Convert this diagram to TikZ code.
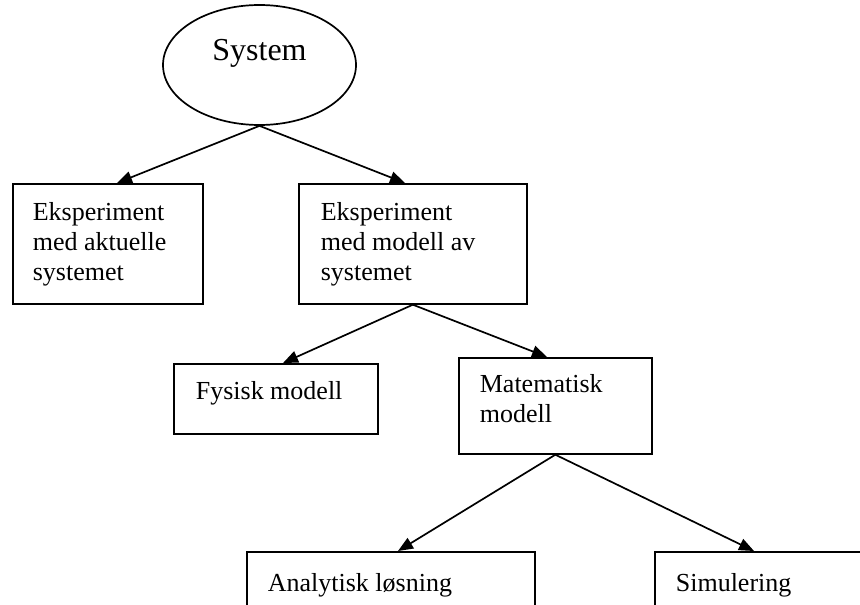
\documentclass[tikz,border=0pt]{standalone}
\usepackage{fontspec}
\setmainfont{Liberation Serif}
\usetikzlibrary{arrows.meta,calc,shapes.geometric}

% box text: height, width, left padding, first baseline depth, text
\newcommand\boxtext[5]{%
  \begin{minipage}[t][#1][t]{#2}\raggedright\leftskip=#3\relax
  \fontsize{26pt}{30pt}\selectfont\rule{0pt}{#4}#5\end{minipage}}

\tikzset{
  boxst/.style={draw, rectangle, inner sep=0pt, line width=1.7pt, anchor=north west},
  sysst/.style={draw, ellipse, inner sep=0pt, line width=1.7pt,
    minimum width=193pt, minimum height=120pt,
    font=\fontsize{32pt}{36pt}\selectfont, text height=22pt, text depth=32pt},
  arr/.style={line width=1.7pt, -{Triangle[length=15pt,width=12pt]}}
}

\begin{document}
\begin{tikzpicture}[x=1pt, y=-1pt]
  \useasboundingbox (0,0) rectangle (860,605);
  \fill[white] (0,0) rectangle (860,605);
  \clip (0,0) rectangle (860,605);

  \node[sysst] (sys) at (259.5,65) {System};

  \node[boxst] (b1) at (12,183)
    {\boxtext{120pt}{190pt}{20pt}{37pt}{Eksperiment\\ med aktuelle\\ systemet}};
  \node[boxst] (b2) at (298,183)
    {\boxtext{120pt}{228pt}{22pt}{37pt}{Eksperiment\\ med modell av\\ systemet}};
  \node[boxst] (b3) at (173,363)
    {\boxtext{70pt}{204pt}{22pt}{36pt}{Fysisk modell}};
  \node[boxst] (b4) at (458,357)
    {\boxtext{96pt}{193pt}{21pt}{35pt}{Matematisk\\ modell}};
  \node[boxst] (b5) at (246,551)
    {\boxtext{90pt}{288pt}{21pt}{40pt}{Analytisk løsning}};
  \node[boxst] (b6) at (654,551)
    {\boxtext{90pt}{250pt}{21pt}{40pt}{Simulering}};

  \draw[arr] (sys.south) -- ($(b1.north west)+(105,0)$);
  \draw[arr] (sys.south) -- ($(b2.north west)+(107,0)$);
  \draw[arr] (b2.south) -- ($(b3.north west)+(110,0)$);
  \draw[arr] (b2.south) -- ($(b4.north west)+(89,0)$);
  \draw[arr] (b4.south) -- ($(b5.north west)+(152,0)$);
  \draw[arr] (b4.south) -- ($(b6.north west)+(100,0)$);
\end{tikzpicture}
\end{document}
